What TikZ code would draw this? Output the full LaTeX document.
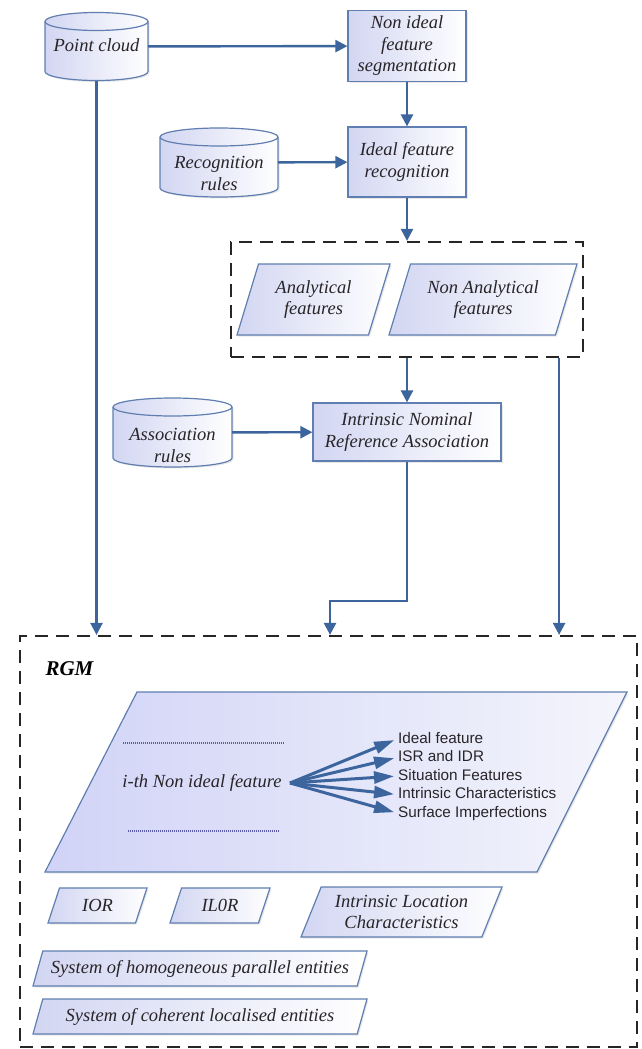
\documentclass[tikz,border=0pt]{standalone}
\usepackage{fontspec}
\setmainfont{Liberation Serif}
\setsansfont{Liberation Sans}
\usepackage{tikz}
\usetikzlibrary{shapes.geometric,arrows.meta,shadows}

\definecolor{flowblue}{RGB}{60,101,158}
\definecolor{edgeblue}{RGB}{96,126,176}
\definecolor{lavender}{RGB}{210,214,242}
\definecolor{inktext}{RGB}{40,36,40}

\newcommand\boxfont{\fontsize{18.5}{21.5}\selectfont\itshape}
\newcommand\listfont{\sffamily\fontsize{15.3}{18.5}\selectfont}
\newcommand\rgmfont{\fontsize{21}{24}\selectfont\bfseries\itshape}

\tikzset{
  boxbody/.style={draw=edgeblue, line width=1.2pt, left color=lavender, right color=white,
    drop shadow={opacity=0.18, shadow xshift=1.5pt, shadow yshift=-1.5pt}},
  box/.style={boxbody, text=inktext, font=\boxfont, align=center, inner sep=2pt},
  proc/.style={box, rectangle},
  storeedge/.style={draw=edgeblue, line width=1.2pt},
  storetxt/.style={text=inktext, font=\boxfont, align=center, inner sep=0pt},
  data/.style={box, trapezium, trapezium left angle=63, trapezium right angle=117,
    trapezium stretches body=true},
  flow/.style={flowblue, line width=2.4pt, -{Triangle[length=12pt,width=12pt]}},
  fanarrow/.style={flowblue, line width=3pt, shorten >=3pt, -{Triangle[length=20pt,width=12pt]}},
  group/.style={draw=black!85, line width=2.2pt, dash pattern=on 13pt off 8pt},
  dotline/.style={gray!70!blue, line width=1.3pt, dash pattern=on 1pt off 1pt},
  listitem/.style={anchor=west, font=\listfont, text=inktext, text height=11pt, text depth=3pt, inner sep=1pt}
}

% cylinder store: name, x, y, half width, half height, text, text offset
\newcommand\storage[7]{%
  \path[boxbody] (#2-#4,#3-#5+9) -- (#2-#4,#3+#5-9)
    arc[start angle=180, end angle=360, x radius=#4pt, y radius=9pt]
    -- (#2+#4,#3-#5+9)
    arc[start angle=0, end angle=180, x radius=#4pt, y radius=9pt] -- cycle;
  \draw[storeedge] (#2-#4,#3-#5+9) arc[start angle=180, end angle=360, x radius=#4pt, y radius=9pt];
  \node[minimum width=2*#4pt, minimum height=2*#5pt, inner sep=0pt] (#1) at (#2,#3) {};
  \node[storetxt] (#1txt) at (#2,#3+#7) {#6};
}

\begin{document}
\begin{tikzpicture}[x=1pt,y=-1pt]
\fill[white] (0,0) rectangle (641,1049);

\storage{pc}{96.5}{46.5}{51.5}{34}{Point cloud}{-1}
\node[proc, minimum width=118pt, minimum height=71pt] (nfs) at (407,46) {Non ideal\\feature\\segmentation};
\node[proc, minimum width=118pt, minimum height=70pt] (ifr) at (407,162) {Ideal feature\\recognition};
\storage{rr}{219}{162.5}{59}{34.5}{Recognition\\rules}{11}

% recognised features
\node[data, minimum width=153pt, minimum height=71pt] (af) at (313.5,299.5) {Analytical\\features};
\node[data, minimum width=188pt, minimum height=71pt] (naf) at (483,299.5) {Non Analytical\\features};
\node[group, minimum width=352pt, minimum height=115pt] (grp) at (407,299.5) {};

\node[proc, minimum width=188pt, minimum height=58pt] (inra) at (407,432) {Intrinsic Nominal\\Reference Association};
\storage{ar}{172.5}{432.5}{59.5}{34.5}{Association\\rules}{13}

% RGM block
\node[group, minimum width=617pt, minimum height=411pt] (rgm) at (328.5,841.5) {};
\node[anchor=west, font=\rgmfont, text=black] (rgmlbl) at (42,669) {RGM};

\path[boxbody, left color=lavender!90!blue!70, right color=lavender!25] (137,692) -- (627,692) -- (537,872) -- (45,872) -- cycle;
\draw[dotline] (123,743) -- (285,743);
\draw[dotline] (128,831) -- (280,831);
\node[font=\boxfont, text=inktext] (ith) at (202,783) {i-th Non ideal feature};
\coordinate (fan) at (290,783);
\foreach \txt [count=\i] in {Ideal feature, ISR and IDR, Situation Features, Intrinsic Characteristics, Surface Imperfections} {
  \node[listitem] (item\i) at (397,720.5+18.5*\i) {\txt};
  \draw[fanarrow] (fan) -- (item\i.west);
}

\node[data, trapezium left angle=55, trapezium right angle=125, minimum width=99pt, minimum height=35pt] (ior) at (97.5,905.5) {IOR};
\node[data, trapezium left angle=55, trapezium right angle=125, minimum width=100pt, minimum height=35pt] (ilor) at (220,905.5) {IL0R};
\node[data, trapezium left angle=62, trapezium right angle=118, minimum width=201pt, minimum height=50pt] (ilc) at (401.5,912) {Intrinsic Location\\Characteristics};
\node[data, trapezium left angle=65, trapezium right angle=115, minimum width=334pt, minimum height=35pt] (shpe) at (200,968.5) {System of homogeneous parallel entities};
\node[data, trapezium left angle=65, trapezium right angle=115, minimum width=334pt, minimum height=35pt] (scle) at (200,1016.5) {System of coherent localised entities};

% connectors
\draw[flow] (pc) -- (nfs);
\draw[flow] (nfs) -- (ifr);
\draw[flow] (rr) -- (ifr);
\draw[flow] (ifr) -- (grp);
\draw[flow] (grp) -- (inra);
\draw[flow] (ar) -- (inra);
\draw[flow] (pc) -- (pc |- rgm.north);
\coordinate (bend) at (330,601);
\draw[flow] (inra) |- (bend) -- (bend |- rgm.north);
\coordinate (drop) at ([xshift=-25pt]grp.south east);
\draw[flow] (drop) -- (drop |- rgm.north);

\end{tikzpicture}
\end{document}
